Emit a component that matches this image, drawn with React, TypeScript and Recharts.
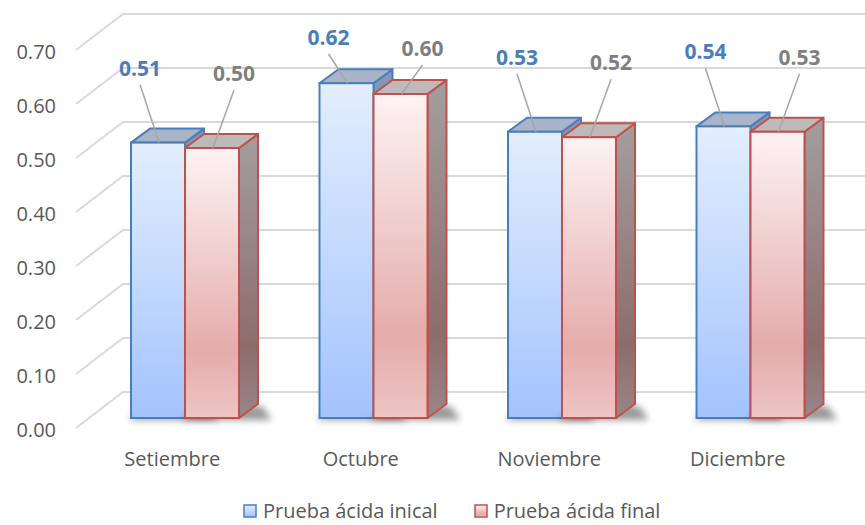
import { BarChart, Bar, XAxis, YAxis, CartesianGrid, Legend, LabelList } from 'recharts';

const meses = ['Setiembre', 'Octubre', 'Noviembre', 'Diciembre'];
const pruebaInicial = [0.51, 0.62, 0.53, 0.54];
const pruebaFinal = [0.5, 0.6, 0.52, 0.53];
const yTicks = [0, 0.1, 0.2, 0.3, 0.4, 0.5, 0.6, 0.7];

const data = meses.map((mes, i) => ({ mes, inicial: pruebaInicial[i], final: pruebaFinal[i] }));

// profundidad del efecto 3D
const DX = 19;
const DY = -14;
const FONT = '"Open Sans", "Noto Sans", sans-serif';

const estilos: Record<string, any> = {
  inicial: { stroke: '#4A7EBB', front: 'url(#gradInicial)', top: '#A9B4C8', side: 'url(#ladoInicial)', label: '#4A7EBB', dx: -18, minY: 37 },
  final: { stroke: '#C0504D', front: 'url(#gradFinal)', top: '#BEBABA', side: 'url(#ladoFinal)', label: '#7F7F7F', dx: 22, minY: 48 },
};

const barra3D = (serie: string) => (props: any) => {
  const { x, y, width: w, height: h } = props;
  const s = estilos[serie];
  const base = y + h;
  return (
    <g>
      <polygon
        points={`${x - 4},${base + 2} ${x + w + DX + 14},${base + 2} ${x + w + DX + 4},${base + DY + 2} ${x + DX},${base + DY + 2}`}
        fill="#000"
        opacity={0.4}
        filter="url(#sombra)"
      />
      <polygon
        points={`${x + w},${y} ${x + w + DX},${y + DY} ${x + w + DX},${base + DY} ${x + w},${base}`}
        fill={s.side}
        stroke={s.stroke}
        strokeWidth={2}
        strokeLinejoin="round"
      />
      <polygon
        points={`${x},${y} ${x + DX},${y + DY} ${x + w + DX},${y + DY} ${x + w},${y}`}
        fill={s.top}
        stroke={s.stroke}
        strokeWidth={2}
        strokeLinejoin="round"
      />
      <rect x={x} y={y} width={w} height={h} fill={s.front} stroke={s.stroke} strokeWidth={2} />
    </g>
  );
};

const etiqueta = (serie: string) => (props: any) => {
  const { x, y, width, value } = props;
  const s = estilos[serie];
  const cx = x + width / 2;
  const lx = cx + s.dx;
  const ly = Math.max(y - 75, s.minY);
  return (
    <g>
      <line x1={lx} y1={ly + 17} x2={cx + 1} y2={y} stroke="#A6A6A6" strokeWidth={1.5} />
      <text x={lx} y={ly} textAnchor="middle" dominantBaseline="central" fontFamily={FONT} fontSize={21} fontWeight="bold" fill={s.label}>
        {Number(value).toFixed(2)}
      </text>
    </g>
  );
};

const lineaFondo = (p: any) => (
  <polyline
    key={p.key ?? `g-${p.y1}`}
    points={`76,${p.y1 + 10} 123,${p.y1 - 26} 865,${p.y1 - 26}`}
    fill="none"
    stroke="#D9D9D9"
    strokeWidth={2}
  />
);

const TickY = ({ y, payload }: any) => (
  <text x={56} y={y + 11} textAnchor="end" dominantBaseline="central" fontFamily={FONT} fontSize={20} fill="#595959">
    {Number(payload.value).toFixed(2)}
  </text>
);

const TickX = ({ x, y, payload }: any) => (
  <text x={x - 13} y={y + 32} textAnchor="middle" dominantBaseline="central" fontFamily={FONT} fontSize={20} fill="#595959">
    {payload.value}
  </text>
);

const cuadro = (grad: string, borde: string) => (
  <svg width={14} height={14} style={{ marginRight: 6 }}>
    <rect x={1} y={1} width={12} height={12} fill={grad} stroke={borde} strokeWidth={1.5} />
  </svg>
);

const Leyenda = () => (
  <div style={{ display: 'flex', alignItems: 'center', paddingLeft: 243, height: 22, lineHeight: '22px', fontFamily: FONT, fontSize: 20, color: '#595959' }}>
    {cuadro('url(#gradInicial)', '#4A7EBB')}
    <span style={{ marginRight: 36 }}>Prueba ácida inical</span>
    {cuadro('url(#gradFinal)', '#C0504D')}
    <span>Prueba ácida final</span>
  </div>
);

export default function App() {
  return (
    <div style={{ position: 'absolute', left: 0, top: 0, background: '#fff' }}>
      <svg width={0} height={0} style={{ position: 'absolute' }}>
        <defs>
          <linearGradient id="gradInicial" x1="0" y1="0" x2="0" y2="1">
            <stop offset="0%" stopColor="#E3EEFE" />
            <stop offset="100%" stopColor="#A3C3FD" />
          </linearGradient>
          <linearGradient id="gradFinal" x1="0" y1="0" x2="0" y2="1">
            <stop offset="0%" stopColor="#FDF3F3" />
            <stop offset="75%" stopColor="#E4ACAB" />
            <stop offset="100%" stopColor="#EDC5C4" />
          </linearGradient>
        </defs>
      </svg>
      <BarChart width={865} height={525} data={data} margin={{ top: 40, right: 20, left: 0, bottom: 45 }} barGap={0} barSize={54}>
        <defs>
          <linearGradient id="ladoInicial" x1="0" y1="0" x2="0" y2="1">
            <stop offset="0%" stopColor="#8797B5" />
            <stop offset="100%" stopColor="#6F84A8" />
          </linearGradient>
          <linearGradient id="ladoFinal" x1="0" y1="0" x2="0" y2="1">
            <stop offset="0%" stopColor="#A49E9E" />
            <stop offset="75%" stopColor="#8E6C6C" />
            <stop offset="100%" stopColor="#9A8686" />
          </linearGradient>
          <filter id="sombra" x="-50%" y="-100%" width="200%" height="300%">
            <feGaussianBlur stdDeviation="3.5" />
          </filter>
        </defs>
        <CartesianGrid vertical={false} horizontal={lineaFondo} />
        <XAxis dataKey="mes" axisLine={false} tickLine={false} height={40} tick={<TickX />} />
        <YAxis domain={[0, 0.7]} ticks={yTicks} width={91} axisLine={false} tickLine={false} tick={<TickY />} />
        <Legend verticalAlign="bottom" content={<Leyenda />} wrapperStyle={{ left: 0, top: 500, bottom: 'auto', width: 865 }} />
        <Bar dataKey="inicial" name="Prueba ácida inical" isAnimationActive={false} shape={barra3D('inicial')}>
          <LabelList dataKey="inicial" content={etiqueta('inicial')} />
        </Bar>
        <Bar dataKey="final" name="Prueba ácida final" isAnimationActive={false} shape={barra3D('final')}>
          <LabelList dataKey="final" content={etiqueta('final')} />
        </Bar>
      </BarChart>
    </div>
  );
}
